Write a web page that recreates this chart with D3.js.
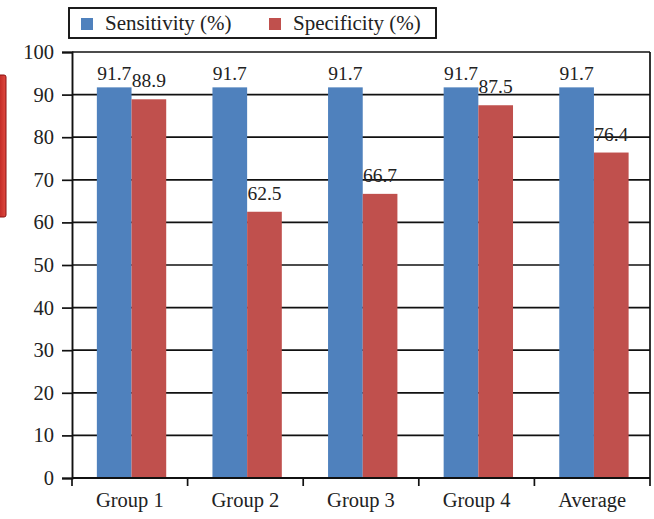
<!DOCTYPE html>
<html>
<head>
<meta charset="utf-8">
<script src="https://cdn.jsdelivr.net/npm/d3@7"></script>
<style>
  html, body { margin: 0; padding: 0; background: #fff; }
  svg { display: block; }
  text { font-family: "Liberation Serif", "Times New Roman", serif; fill: #222; }
</style>
</head>
<body>
<svg id="chart" width="654" height="519"></svg>
<script>
// ---- data ----
const categories = ["Group 1", "Group 2", "Group 3", "Group 4", "Average"];
const seriesNames = ["Sensitivity (%)", "Specificity (%)"];
const sensitivity = [91.7, 91.7, 91.7, 91.7, 91.7];
const specificity = [88.9, 62.5, 66.7, 87.5, 76.4];
const yTicks = [0, 10, 20, 30, 40, 50, 60, 70, 80, 90, 100];
const colors = ["#4F81BD", "#C0504D"];

// ---- layout ----
const plotL = 72, plotR = 650, plotT = 52, plotB = 478;
const svg = d3.select("#chart");

// decorative red tab at far left (cropped object in the source image)
const defs = svg.append("defs");
const grad = defs.append("linearGradient").attr("id", "redTab").attr("x1", 0).attr("x2", 1).attr("y1", 0).attr("y2", 0);
grad.append("stop").attr("offset", "0%").attr("stop-color", "#b01818");
grad.append("stop").attr("offset", "100%").attr("stop-color", "#e04a40");
svg.append("rect").attr("x", -4).attr("y", 75).attr("width", 10).attr("height", 142)
  .attr("rx", 2).attr("fill", "url(#redTab)").attr("stroke", "#8a1010").attr("stroke-width", 1);

const x0 = d3.scaleBand().domain(categories).range([plotL, plotR]).paddingInner(0).paddingOuter(0);
const bw = x0.bandwidth();
const x1 = d3.scaleBand().domain(seriesNames).range([bw * 0.215, bw * 0.815]).padding(0);
const y = d3.scaleLinear().domain([0, 100]).range([plotB, plotT]);

// gridlines
svg.append("g").selectAll("line").data(yTicks.filter(t => t > 0)).join("line")
  .attr("x1", plotL).attr("x2", plotR)
  .attr("y1", d => y(d)).attr("y2", d => y(d))
  .attr("stroke", "#111").attr("stroke-width", 1.7);

// right frame
svg.append("line").attr("x1", plotR).attr("x2", plotR).attr("y1", plotT).attr("y2", plotB)
  .attr("stroke", "#111").attr("stroke-width", 1.7);

// bars
const rows = categories.map((c, i) => ({ cat: c, vals: [sensitivity[i], specificity[i]] }));
const groups = svg.append("g").selectAll("g").data(rows).join("g")
  .attr("transform", d => `translate(${x0(d.cat)},0)`);
groups.selectAll("rect").data(d => d.vals.map((v, j) => ({ v, s: seriesNames[j], j }))).join("rect")
  .attr("x", d => x1(d.s))
  .attr("width", x1.bandwidth())
  .attr("y", d => y(d.v))
  .attr("height", d => y(0) - y(d.v))
  .attr("fill", d => colors[d.j]);

// value labels
groups.selectAll("text.val").data(d => d.vals.map((v, j) => ({ v, s: seriesNames[j], j }))).join("text")
  .attr("class", "val")
  .attr("x", d => x1(d.s) + x1.bandwidth() / 2)
  .attr("y", d => y(d.v) - (d.j === 0 ? 7 : 12))
  .attr("text-anchor", "middle")
  .attr("font-size", 19.5)
  .text(d => d.v.toFixed(1));

// y axis
const yAxis = d3.axisLeft(y).tickValues(yTicks).tickSize(10).tickPadding(8).tickFormat(d3.format("d"));
const gy = svg.append("g").attr("transform", `translate(${plotL},0)`).call(yAxis);
gy.select(".domain").attr("stroke", "#111").attr("stroke-width", 1.9);
gy.selectAll(".tick line").attr("stroke", "#111").attr("stroke-width", 1.7);
gy.selectAll(".tick text").attr("font-size", 20.5).attr("fill", "#222");

// x axis (ticks at band boundaries)
const gx = svg.append("g").attr("transform", `translate(0,${plotB})`);
gx.append("line").attr("x1", plotL).attr("x2", plotR).attr("y1", 0).attr("y2", 0)
  .attr("stroke", "#111").attr("stroke-width", 1.9);
const boundaries = categories.map(c => x0(c)).concat([plotR]);
gx.selectAll("line.tk").data(boundaries).join("line").attr("class", "tk")
  .attr("x1", d => d).attr("x2", d => d).attr("y1", 0).attr("y2", 8)
  .attr("stroke", "#111").attr("stroke-width", 1.7);
gx.selectAll("text").data(categories).join("text")
  .attr("x", d => x0(d) + bw / 2).attr("y", 29)
  .attr("text-anchor", "middle").attr("font-size", 20.5)
  .text(d => d);

// legend
const lg = svg.append("g");
lg.append("rect").attr("x", 69).attr("y", 8).attr("width", 367).attr("height", 30)
  .attr("fill", "#fff").attr("stroke", "#111").attr("stroke-width", 1.9);
const legendX = [81, 269];
seriesNames.forEach((s, i) => {
  lg.append("rect").attr("x", legendX[i]).attr("y", 18).attr("width", 12).attr("height", 12)
    .attr("fill", colors[i]);
  lg.append("text").attr("x", legendX[i] + 24).attr("y", 30).attr("font-size", 21).text(s);
});
</script>
</body>
</html>
